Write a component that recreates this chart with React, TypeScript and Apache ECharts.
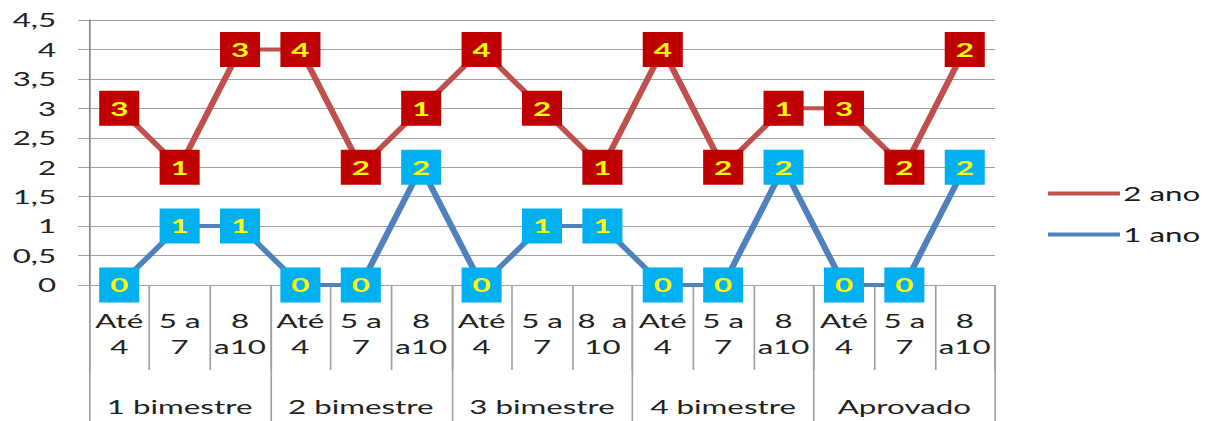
import React, { useEffect, useRef } from "react";
import * as echarts from "echarts";

const categories = [
  "Até\n4", "5 a\n7", "8\na10",
  "Até\n4", "5 a\n7", "8\na10",
  "Até\n4", "5 a\n7", "8  a\n10",
  "Até\n4", "5 a\n7", "8\na10",
  "Até\n4", "5 a\n7", "8\na10",
];
const groups = ["1 bimestre", "2 bimestre", "3 bimestre", "4 bimestre", "Aprovado"];
const ano2Values = [3, 2, 4, 4, 2, 3, 4, 3, 2, 4, 2, 3, 3, 2, 4];
const ano2Labels = [3, 1, 3, 4, 2, 1, 4, 2, 1, 4, 2, 1, 3, 2, 2];
const ano1Values = [0, 1, 1, 0, 0, 2, 0, 1, 1, 0, 0, 2, 0, 0, 2];
const ano1Labels = [0, 1, 1, 0, 0, 2, 0, 1, 1, 0, 0, 2, 0, 0, 2];

const FONT = "Lato, 'Open Sans', sans-serif";
const OUT_W = 1207;
const IN_W = 732;
const SX = OUT_W / IN_W;

export default function App() {
  const ref = useRef<HTMLDivElement>(null);
  useEffect(() => {
    if (!ref.current) return;
    const chart = echarts.init(ref.current, null, { renderer: "svg" });
    const labelStyle = {
      show: true,
      position: "inside" as const,
      color: "#FFFF00",
      fontSize: 19,
      fontWeight: "bold" as const,
      fontFamily: FONT,
    };
    chart.setOption({
      animation: false,
      backgroundColor: "#ffffff",
      grid: { left: 54, right: 128.6, top: 20, bottom: 136, containLabel: false },
      legend: {
        orient: "vertical",
        left: 630.6,
        top: 179,
        itemWidth: 43.6,
        itemHeight: 4,
        itemGap: 22,
        icon: "rect",
        textStyle: { fontSize: 19, color: "#1a1a1a", fontFamily: FONT, padding: [0, 0, 0, -3] },
        data: [
          { name: "2 ano", itemStyle: { color: "#C0504D" } },
          { name: "1 ano", itemStyle: { color: "#4F81BD" } },
        ],
      },
      xAxis: [
        {
          type: "category",
          data: categories,
          boundaryGap: true,
          axisLine: { show: true, lineStyle: { color: "#A0A0A0", width: 1 } },
          axisTick: { show: true, interval: 0, length: 85, lineStyle: { color: "#A0A0A0", width: 1 } },
          axisLabel: {
            interval: 0,
            margin: 23,
            fontSize: 19,
            lineHeight: 26,
            color: "#222",
            fontFamily: FONT,
          },
        },
        {
          type: "category",
          data: groups,
          position: "bottom",
          offset: 0,
          boundaryGap: true,
          axisLine: { show: false },
          axisTick: { show: true, interval: 0, length: 136, lineStyle: { color: "#A0A0A0", width: 1 } },
          axisLabel: {
            interval: 0,
            margin: 112,
            fontSize: 19,
            color: "#222",
            fontFamily: FONT,
          },
        },
      ],
      yAxis: {
        type: "value",
        min: 0,
        max: 4.5,
        interval: 0.5,
        axisLine: { show: true, lineStyle: { color: "#868686", width: 1 } },
        axisTick: { show: true, length: 6.7, lineStyle: { color: "#A0A0A0" } },
        splitLine: { show: true, lineStyle: { color: "#A0A0A0", width: 1 } },
        axisLabel: {
          margin: 20,
          fontSize: 19,
          color: "#222",
          fontFamily: FONT,
          formatter: (v: number) => String(v).replace(".", ","),
        },
      },
      series: [
        {
          name: "2 ano",
          type: "line",
          xAxisIndex: 0,
          data: ano2Values,
          clip: false,
          symbol: "rect",
          symbolSize: [24.3, 35],
          itemStyle: { color: "#C00000" },
          lineStyle: { color: "#C0504D", width: 4 },
          label: { ...labelStyle, formatter: (p: any) => String(ano2Labels[p.dataIndex]) },
          z: 3,
        },
        {
          name: "1 ano",
          type: "line",
          xAxisIndex: 0,
          data: ano1Values,
          clip: false,
          symbol: "rect",
          symbolSize: [24.3, 35],
          itemStyle: { color: "#00B0F0" },
          lineStyle: { color: "#4F81BD", width: 4 },
          label: { ...labelStyle, formatter: (p: any) => String(ano1Labels[p.dataIndex]) },
          z: 3,
        },
      ],
    });
    return () => chart.dispose();
  }, []);
  return (
    <div style={{ position: "fixed", left: 0, top: 0, width: OUT_W, height: 421, overflow: "hidden", background: "#fff" }}>
      <div
        ref={ref}
        style={{
          width: IN_W,
          height: 421,
          transform: `scaleX(${SX})`,
          transformOrigin: "0 0",
        }}
      />
    </div>
  );
}
